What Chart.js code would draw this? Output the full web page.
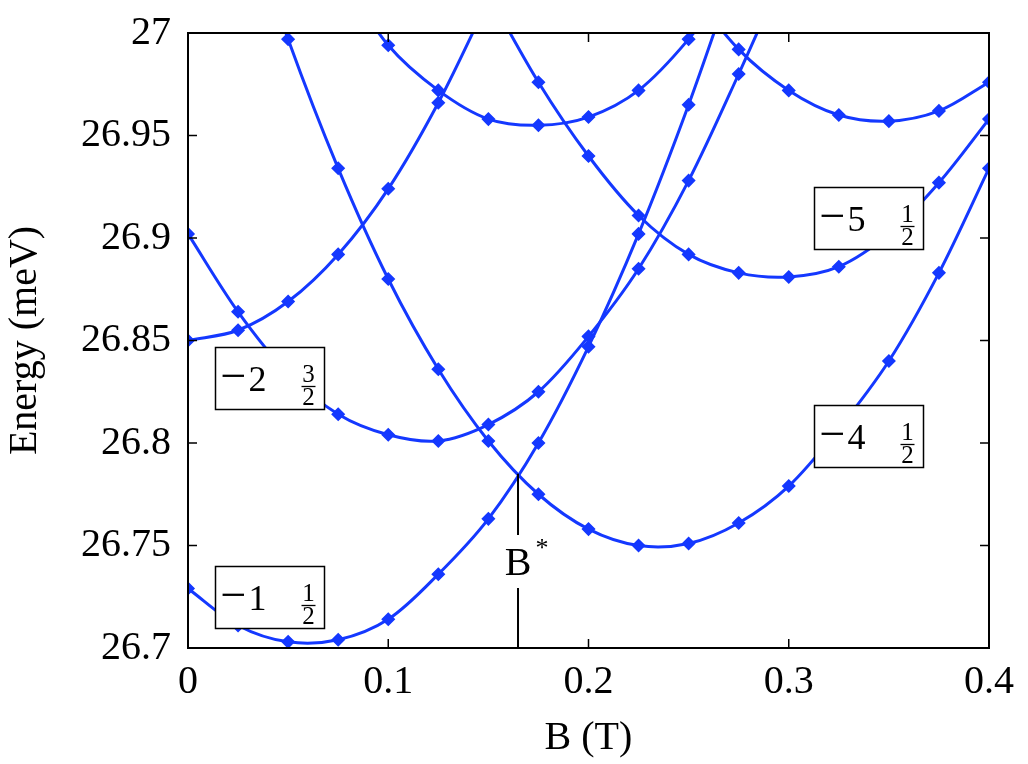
<!DOCTYPE html>
<html>
<head>
<meta charset="utf-8">
<script src="https://cdn.jsdelivr.net/npm/chart.js@4.4.1/dist/chart.umd.min.js"></script>
<style>
  html, body { margin: 0; padding: 0; background: #fff; }
</style>
</head>
<body>
<canvas id="levels" width="1028" height="764"></canvas>
<script>
// magnetic field sample points (T)
const bField = [0, 0.025, 0.05, 0.075, 0.1, 0.125, 0.15, 0.175, 0.2, 0.225, 0.25, 0.275, 0.3, 0.325, 0.35, 0.375, 0.4];

// level energies (meV); null where the level is off the plotted window
const levelA = [26.729, 26.711, 26.703, 26.704, 26.714, 26.736, 26.763, 26.800, 26.847, 26.902, 26.965, 27.035, null, null, null, null, null];
const levelB = [26.850, 26.855, 26.869, 26.892, 26.924, 26.966, 27.016, null, null, null, null, null, null, null, null, null, null];
const levelC = [26.902, 26.864, 26.834, 26.814, 26.804, 26.801, 26.809, 26.825, 26.852, 26.885, 26.928, 26.980, 27.035, null, null, null, null];
const levelD = [null, 27.069, 26.997, 26.934, 26.880, 26.836, 26.801, 26.775, 26.758, 26.750, 26.751, 26.761, 26.779, 26.807, 26.840, 26.883, 26.934];
const levelE = [null, null, null, 27.030, 26.994, 26.972, 26.958, 26.955, 26.959, 26.972, 26.997, 27.030, null, null, null, null, null];
const levelF = [null, null, null, null, null, null, 27.019, 26.976, 26.940, 26.911, 26.892, 26.883, 26.881, 26.886, 26.902, 26.927, 26.958];
const levelG = [null, null, null, null, null, null, null, null, null, null, 27.022, 26.992, 26.972, 26.960, 26.957, 26.962, 26.976];

const xTickLabels = ['0', '0.1', '0.2', '0.3', '0.4'];
const yTickLabels = ['26.7', '26.75', '26.8', '26.85', '26.9', '26.95', '27'];

// crossing field B* and the energy where the two levels meet
const bStar = 0.1648;
const bStarEnergy = 26.785;

// boxed level tags: quantum numbers, anchored at the box's top-left corner (B, E)
const levelTags = [
  { n: '1', num: '1', den: '2', b: 0.0135, e: 26.740 },
  { n: '2', num: '3', den: '2', b: 0.0135, e: 26.847 },
  { n: '5', num: '1', den: '2', b: 0.3126, e: 26.925 },
  { n: '4', num: '1', den: '2', b: 0.3126, e: 26.8185 }
];

const BLUE = '#1438ff';
const SERIF = '"Liberation Serif", "Times New Roman", serif';

function toPoints(levels) {
  const pts = [];
  levels.forEach((e, i) => { if (e !== null) pts.push({ x: bField[i], y: e }); });
  return pts;
}

const datasets = [levelA, levelB, levelC, levelD, levelE, levelF, levelG].map(lv => ({
  data: toPoints(lv),
  borderColor: BLUE,
  backgroundColor: BLUE,
  borderWidth: 3,
  tension: 0.33,
  pointStyle: 'rectRot',
  pointRadius: 6,
  pointBorderWidth: 1.5,
  pointBackgroundColor: BLUE,
  pointBorderColor: BLUE
}));

// frame, inward ticks, B* marker and level tags
const decorations = {
  id: 'decorations',
  afterDatasetsDraw(chart) {
    const { ctx, chartArea: a, scales: { x, y } } = chart;
    ctx.save();

    // B* marker
    const xs = x.getPixelForValue(bStar);
    const yTop = y.getPixelForValue(bStarEnergy);
    const yText = y.getPixelForValue(26.742);
    ctx.strokeStyle = '#000';
    ctx.lineWidth = 2;
    ctx.beginPath();
    ctx.moveTo(xs, yTop);
    ctx.lineTo(xs, yText - 27);
    ctx.moveTo(xs, yText + 26);
    ctx.lineTo(xs, a.bottom);
    ctx.stroke();
    ctx.fillStyle = '#000';
    ctx.textAlign = 'center';
    ctx.textBaseline = 'alphabetic';
    ctx.font = '40px ' + SERIF;
    ctx.fillText('B', xs, yText + 13);
    ctx.font = '26px ' + SERIF;
    ctx.fillText('*', xs + 24, yText - 6);

    // level tags
    levelTags.forEach(t => {
      const left = Math.round(x.getPixelForValue(t.b)) + 0.5;
      const top = Math.round(y.getPixelForValue(t.e)) + 0.5;
      ctx.fillStyle = '#fff';
      ctx.fillRect(left, top, 109, 62);
      ctx.strokeStyle = '#000';
      ctx.lineWidth = 1.5;
      ctx.strokeRect(left, top, 109, 62);
      ctx.fillStyle = '#000';
      ctx.textAlign = 'left';
      ctx.font = '46px ' + SERIF;
      ctx.fillText('\u2212', left + 5, top + 43);
      ctx.font = '36px ' + SERIF;
      ctx.fillText(t.n, left + 33, top + 43);
      ctx.textAlign = 'center';
      ctx.font = '25px ' + SERIF;
      ctx.fillText(t.num, left + 93, top + 34);
      ctx.fillText(t.den, left + 93, top + 57);
      ctx.lineWidth = 1.3;
      ctx.beginPath();
      ctx.moveTo(left + 86, top + 39);
      ctx.lineTo(left + 100, top + 39);
      ctx.stroke();
    });

    // inward tick marks
    ctx.strokeStyle = '#000';
    ctx.lineWidth = 1.5;
    ctx.beginPath();
    x.ticks.forEach(t => {
      const px = x.getPixelForValue(t.value);
      ctx.moveTo(px, a.bottom); ctx.lineTo(px, a.bottom - 9);
      ctx.moveTo(px, a.top); ctx.lineTo(px, a.top + 9);
    });
    y.ticks.forEach(t => {
      const py = y.getPixelForValue(t.value);
      ctx.moveTo(a.left, py); ctx.lineTo(a.left + 9, py);
      ctx.moveTo(a.right, py); ctx.lineTo(a.right - 9, py);
    });
    ctx.stroke();

    // frame
    ctx.lineWidth = 2;
    ctx.strokeRect(a.left, a.top, a.width, a.height);
    ctx.restore();
  }
};

const ctx = document.getElementById('levels').getContext('2d');
const levelChart = new Chart(ctx, {
  type: 'line',
  data: { datasets: datasets },
  options: {
    responsive: false,
    animation: false,
    devicePixelRatio: 1,
    layout: { padding: { top: 33, right: 39, left: 0, bottom: 0 } },
    plugins: { legend: { display: false }, tooltip: { enabled: false } },
    scales: {
      x: {
        type: 'linear',
        min: 0,
        max: 0.4,
        afterFit: s => { s.height = 116; s.paddingLeft = 0; s.paddingRight = 0; },
        grid: { display: false, drawTicks: false },
        border: { display: false },
        ticks: {
          stepSize: 0.1,
          padding: 10,
          color: '#000',
          font: { family: SERIF, size: 40 },
          callback: (v, i) => xTickLabels[i]
        },
        title: {
          display: true,
          text: 'B (T)',
          color: '#000',
          font: { family: SERIF, size: 40 },
          padding: { top: 0, bottom: 2 }
        }
      },
      y: {
        min: 26.7,
        max: 27,
        afterFit: s => { s.width = 188; s.paddingTop = 0; s.paddingBottom = 0; },
        grid: { display: false, drawTicks: false },
        border: { display: false },
        ticks: {
          stepSize: 0.05,
          padding: 17,
          color: '#000',
          font: { family: SERIF, size: 40 },
          callback: (v, i) => yTickLabels[i]
        },
        title: {
          display: true,
          text: 'Energy (meV)',
          color: '#000',
          font: { family: SERIF, size: 40 },
          padding: { top: 1, bottom: 0 }
        }
      }
    }
  },
  plugins: [decorations]
});
</script>
</body>
</html>
